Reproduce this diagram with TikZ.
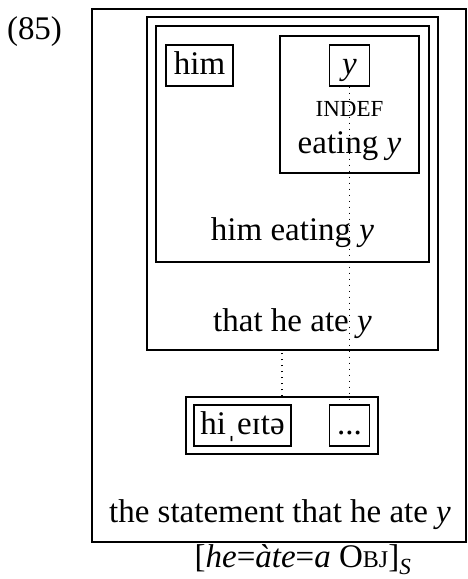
\documentclass[tikz,border=0pt]{standalone}
\usepackage{fontspec}
\setmainfont{Liberation Serif}
\usetikzlibrary{positioning}

% fake small caps, the serif has none
\newcommand{\indef}{{\fontsize{23}{27}\selectfont INDEF}}
\newcommand{\objsc}{O{\fontsize{24}{28}\selectfont BJ}}

\begin{document}
\begin{tikzpicture}[x=1pt,y=-1pt,
  every node/.style={font=\fontsize{33}{40}\selectfont},
  frame/.style={draw, line width=1.3pt, inner sep=0pt},
  word/.style={frame, minimum height=41pt, text height=23pt, text depth=6pt},
  lbl/.style={inner sep=0pt},
  link/.style={line width=1.4pt, dash pattern=on 1.3pt off 4.7pt}]
\useasboundingbox (0,0) rectangle (467,579);

% frames, outermost first
\node[frame, minimum width=374pt, minimum height=533pt] (stmt) at (279,275.5) {};
\node[frame, minimum width=291pt, minimum height=333pt] (clause) at (292.5,183.5) {};
\node[frame, minimum width=273pt, minimum height=236pt] (eating) at (292.5,144) {};
\node[frame, minimum width=139pt, minimum height=137pt] (vp) at (349.5,104.5) {};
\node[word, minimum width=67pt] (him) at (199.5,65.5) {him};
\node[word, minimum width=40pt] (var) at (349.5,65.5) {\textit{y}};

% phonology
\node[frame, minimum width=192pt, minimum height=57pt] (phon) at (282,425.5) {};
\node[word, minimum width=97pt] (form) at (242.5,425.5) {hiˌeɪtə};
\node[word, minimum width=40pt] (rest) at (349.5,425.5) {...};

% labels
\node[lbl] (num) at (34.5,32) {(85)};
\node[lbl] (indef) at (349.5,109) {\indef};
\node[lbl] (vplab) at (349.5,146) {eating \textit{y}};
\node[lbl] (eatlab) at (292.5,233) {him eating \textit{y}};
\node[lbl] (clauselab) at (292.5,324) {that he ate \textit{y}};
\node[lbl] (stmtlab) at (280,515) {the statement that he ate \textit{y}};
\node[lbl] (cap) at (303,560) {[\textit{he}=\textit{àte}=\textit{a} \objsc]\textsubscript{\textit{S}}};

% links
\draw[link] (var.south) -- (rest.north);
\draw[link] (phon.north) -- (phon.north |- clause.south);
\end{tikzpicture}
\end{document}
